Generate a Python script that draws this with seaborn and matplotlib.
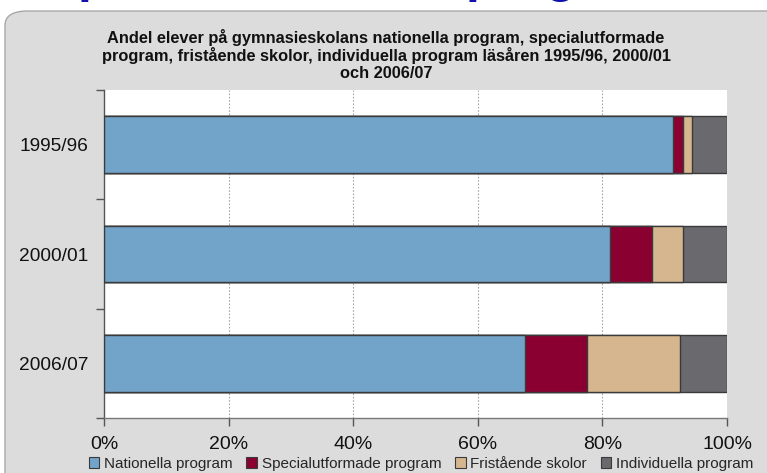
import matplotlib
matplotlib.use("Agg")
import matplotlib.pyplot as plt
import seaborn as sns
import pandas as pd
from matplotlib.patches import FancyBboxPatch, Patch

# ---- data (percent of students) ----
years = ["1995/96", "2000/01", "2006/07"]
nationella = [91.4, 81.3, 67.5]
specialutformade = [1.5, 6.6, 10.0]
fristaende = [1.5, 5.0, 15.0]
individuella = [5.6, 7.1, 7.5]
series_names = ["Nationella program", "Specialutformade program",
                "Fristående skolor", "Individuella program"]
xtick_values = [0, 20, 40, 60, 80, 100]
xtick_labels = ["0%", "20%", "40%", "60%", "80%", "100%"]
title = ("Andel elever på gymnasieskolans nationella program, specialutformade\n"
         "program, fristående skolor, individuella program läsåren 1995/96, 2000/01\n"
         "och 2006/07")

colors = ["#72A4CA", "#8A0031", "#D5B68E", "#6A696E"]

sns.set_theme(style="white")
plt.rcParams["font.family"] = ["Liberation Sans", "DejaVu Sans"]

fig = plt.figure(figsize=(7.67, 4.73), dpi=100)
fig.patch.set_facecolor("white")

# gray rounded panel
W, H = 767, 473
panel = FancyBboxPatch((5 / W, -20 / H), 800 / W, (H - 11 + 20) / H,
                       boxstyle="round,pad=0,rounding_size=0.03",
                       transform=fig.transFigure, facecolor="#DCDCDC",
                       edgecolor="#A8A8A8", linewidth=1.0, zorder=-5)
fig.patches.append(panel)

# cut-off slide heading (only the descenders are visible)
fig.text(78 / W, 1 + 8 / H, "p", fontsize=36, fontweight="bold", color="#1010B0",
         ha="left", va="baseline", zorder=-4)
fig.text(466 / W, 1 + 8 / H, "program", fontsize=36, fontweight="bold", color="#1010B0",
         ha="left", va="baseline", zorder=-4)

ax = fig.add_axes([104 / W, 1 - 418 / H, (727 - 104) / W, (418 - 90) / H])
ax.set_facecolor("white")

# cumulative stacks, drawn from the full bar down
stacks = [nationella, specialutformade, fristaende, individuella]
cum = []
running = [0.0] * len(years)
for s in stacks:
    running = [r + v for r, v in zip(running, s)]
    cum.append(list(running))

for i in range(len(stacks) - 1, -1, -1):
    df = pd.DataFrame({"year": years, "value": cum[i]})
    sns.barplot(data=df, x="value", y="year", orient="h", color=colors[i],
                saturation=1, width=0.52, edgecolor="#3A3A3A", linewidth=1.0,
                ax=ax, zorder=3)

ax.set_xlim(0, 100)
ax.set_ylim(2.5, -0.5)
ax.set_xlabel("")
ax.set_ylabel("")
ax.set_xticks(xtick_values)
ax.set_xticklabels(xtick_labels, fontsize=14, color="#111111")
ax.set_yticks(range(len(years)))
ax.set_yticklabels(years, fontsize=13.8, color="#111111")
ax.set_yticks([-0.5, 0.5, 1.5, 2.5], minor=True)
ax.tick_params(axis="y", which="major", length=0, pad=11)
ax.tick_params(axis="y", which="minor", length=6, width=1, color="#555555", direction="out", left=True)
ax.tick_params(axis="x", which="major", length=6, width=1, color="#555555", direction="out",
               bottom=True, pad=7)

for xv in xtick_values[1:-1]:
    ax.axvline(xv, color="#A8A8A8", linestyle=(0, (1.5, 1.5)), linewidth=0.8, zorder=1)

for side in ["top", "right"]:
    ax.spines[side].set_visible(False)
ax.spines["left"].set_color("#555555")
ax.spines["bottom"].set_color("#777777")
ax.spines["left"].set_linewidth(1.0)
ax.spines["bottom"].set_linewidth(1.0)

fig.text(386 / W, 1 - 29 / H, title, ha="center", va="top", fontsize=11.8,
         fontweight="bold", color="#111111", linespacing=1.1)

handles = [Patch(facecolor=c, edgecolor="#3A3A3A", linewidth=0.8) for c in colors]
fig.legend(handles, series_names, loc="center", bbox_to_anchor=(421 / W, 1 - 464 / H),
           ncol=4, frameon=False, fontsize=11, handlelength=0.7, handleheight=0.7,
           handletextpad=0.3, columnspacing=0.9, borderaxespad=0, borderpad=0)

fig.savefig("out.png", dpi=100)
